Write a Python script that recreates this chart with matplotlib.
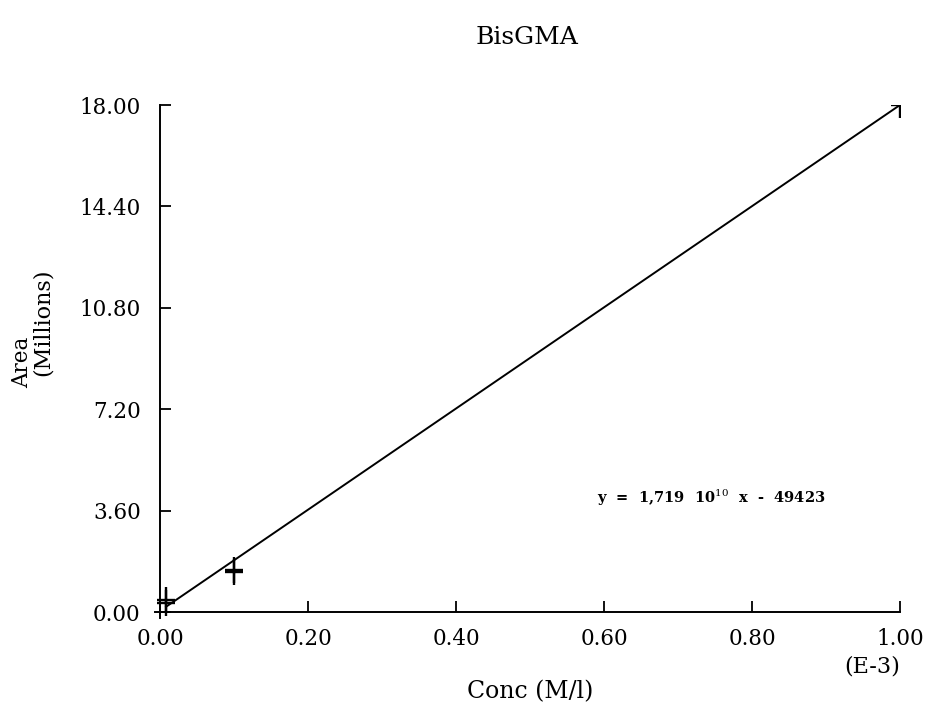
import matplotlib
matplotlib.use("Agg")
from matplotlib import pyplot as plt
from matplotlib.path import Path

# measured points (x in 1E-3 M/l, area in millions)
conc = [0.008, 0.008, 0.100, 0.100, 1.000]
area = [0.34, 0.44, 1.42, 1.52, 18.00]

# regression line as drawn
fit_x = [0.008, 1.000]
fit_y = [0.20, 18.00]

x_ticks = [0.0, 0.2, 0.4, 0.6, 0.8, 1.0]
y_ticks = [0.0, 3.6, 7.2, 10.8, 14.4, 18.0]
equation = "y  =  1,719  10$^{10}$  x  -  49423"

plt.rcParams["font.family"] = ["DejaVu Serif"]
plt.rcParams["mathtext.fontset"] = "dejavuserif"

# a plus that is taller than wide, like the plotter's
tall_plus = Path([(-0.34, 0), (0.34, 0), (0, -0.5), (0, 0.5)],
                 [Path.MOVETO, Path.LINETO, Path.MOVETO, Path.LINETO])

fig = plt.figure(figsize=(9.26, 7.13), dpi=100)
ax = fig.add_axes([155 / 926, 1 - 618 / 713, 745 / 926, 513 / 713])

ax.plot(fit_x, fit_y, color="black", lw=1.4)
ax.plot(conc, area, linestyle="none", marker=tall_plus, color="black",
        ms=19, mew=1.7)

ax.set_xlim(-0.007, 1.0)
ax.set_ylim(-0.2, 18.0)
ax.spines["left"].set_position(("data", 0))
ax.spines["bottom"].set_position(("data", 0))
for s in ("top", "right"):
    ax.spines[s].set_visible(False)
for s in ("left", "bottom"):
    ax.spines[s].set_linewidth(1.4)

ax.set_xticks(x_ticks)
ax.set_yticks(y_ticks)
ax.set_xticklabels([f"{v:.2f}" for v in x_ticks])
ax.set_yticklabels([f"{v:.2f}" for v in y_ticks])
ax.tick_params(direction="in", length=8, width=1.3, labelsize=15.5)
ax.tick_params(axis="y", pad=14)
ax.tick_params(axis="x", pad=11)

ax.text(0.59, 4.05, equation, fontsize=10.5, fontweight="bold", va="center")

fig.text(527 / 926, 1 - 37 / 713, "BisGMA", ha="center", va="center", fontsize=18)
fig.text(530 / 926, 1 - 692 / 713, "Conc (M/l)", ha="center", va="center", fontsize=17)
fig.text(872 / 926, 1 - 667 / 713, "(E-3)", ha="center", va="center", fontsize=16)
fig.text(22 / 926, 1 - 388 / 713, "Area", rotation=90, ha="center", va="bottom", fontsize=15.5)
fig.text(43 / 926, 1 - 376 / 713, "(Millions)", rotation=90, ha="center", va="bottom", fontsize=16)

fig.savefig("out.png", dpi=100)
